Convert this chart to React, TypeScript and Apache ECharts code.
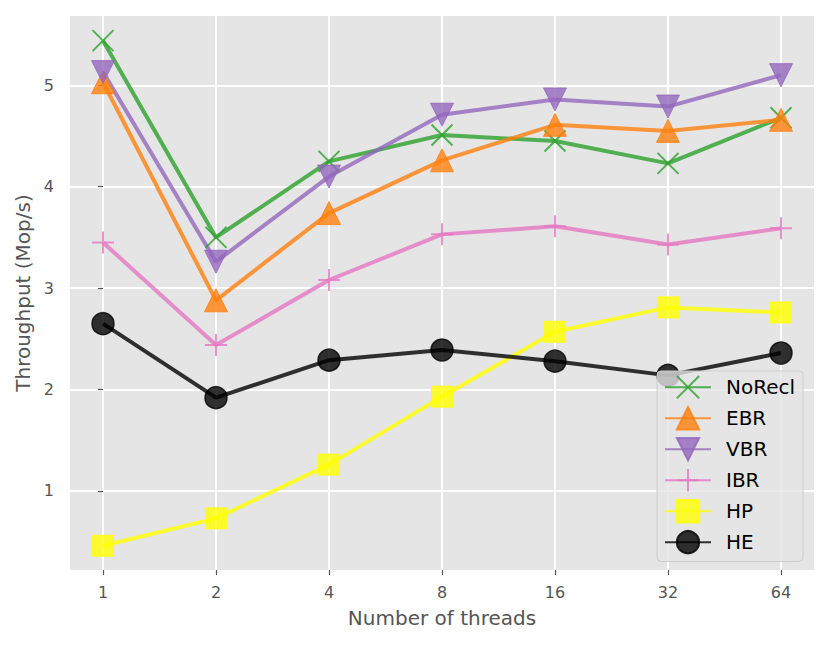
import React, { useEffect, useRef } from "react";
import * as echarts from "echarts";

const threads = [1, 2, 4, 8, 16, 32, 64];
const noRecl = [5.44, 3.5, 4.25, 4.51, 4.45, 4.23, 4.68];
const ebr = [5.03, 2.88, 3.74, 4.26, 4.61, 4.55, 4.66];
const vbr = [5.13, 3.26, 4.1, 4.71, 4.86, 4.79, 5.1];
const ibr = [3.45, 2.44, 3.08, 3.53, 3.61, 3.43, 3.59];
const hp = [0.46, 0.73, 1.26, 1.93, 2.57, 2.81, 2.76];
const he = [2.65, 1.92, 2.29, 2.39, 2.28, 2.14, 2.36];
const yTicks = [1, 2, 3, 4, 5];

const FONT = "DejaVu Sans";
const TXT = "#555555";

export default function App() {
  const ref = useRef<HTMLDivElement>(null);
  useEffect(() => {
    const chart = echarts.init(ref.current!, null, { renderer: "svg" });
    const xVals = threads.map((t) => Math.log2(t));
    const mk = (
      name: string,
      values: number[],
      color: string,
      symbol: string,
      size: number,
      borderWidth: number,
      extra: any = {}
    ) => ({
      name,
      type: "line",
      data: values.map((v, i) => [xVals[i], v]),
      symbol,
      symbolSize: size,
      showAllSymbol: true,
      clip: false,
      lineStyle: { color, width: 4, opacity: 0.8 },
      itemStyle: { color, opacity: 0.8, borderColor: color, borderWidth },
      emphasis: { disabled: true },
      ...extra,
    });
    const xPath = "path://M0,0L10,10M10,0L0,10";
    const plusPath = "path://M5,0L5,10M0,5L10,5";
    chart.setOption({
      animation: false,
      backgroundColor: "#ffffff",
      textStyle: { fontFamily: FONT },
      grid: {
        left: 70,
        right: 17,
        top: 16,
        bottom: 76,
        show: true,
        backgroundColor: "#E5E5E5",
        borderWidth: 0,
      },
      xAxis: {
        type: "value",
        min: -0.292,
        max: 6.292,
        name: "Number of threads",
        nameLocation: "middle",
        nameGap: 38,
        nameTextStyle: { color: TXT, fontSize: 20, fontFamily: FONT },
        axisLine: { show: false },
        axisTick: {
          show: true,
          customValues: xVals,
          length: 5,
          lineStyle: { color: TXT, width: 1.2 },
        },
        axisLabel: {
          customValues: xVals,
          margin: 14,
          color: TXT,
          fontSize: 16,
          fontFamily: FONT,
          formatter: (v: number) => String(threads[Math.round(v)] ?? ""),
        },
        splitLine: { show: true, lineStyle: { color: "#ffffff", width: 1.8 } },
      },
      yAxis: {
        type: "value",
        min: 0.221,
        max: 5.683,
        name: "Throughput (Mop/s)",
        nameLocation: "middle",
        nameGap: 37,
        nameTextStyle: { color: TXT, fontSize: 20, fontFamily: FONT },
        axisLine: { show: false },
        axisTick: {
          show: true,
          customValues: yTicks,
          length: 5,
          lineStyle: { color: TXT, width: 1.2 },
        },
        axisLabel: {
          customValues: yTicks,
          margin: 16,
          color: TXT,
          fontSize: 16,
          fontFamily: FONT,
        },
        splitLine: { show: true, lineStyle: { color: "#ffffff", width: 1.8 } },
      },
      legend: {
        orient: "vertical",
        left: 657,
        top: 371,
        padding: [4, 8, 7, 7],
        itemWidth: 46,
        itemHeight: 28,
        itemGap: 6.6,
        backgroundColor: "rgba(229,229,229,0.8)",
        borderColor: "#cccccc",
        borderWidth: 1,
        borderRadius: 4,
        textStyle: {
          color: "#000000",
          fontSize: 20,
          fontFamily: FONT,
          padding: [0, 0, 0, 10],
        },
        data: ["NoRecl", "EBR", "VBR", "IBR", "HP", "HE"],
      },
      series: [
        mk("NoRecl", noRecl, "#2ca02c", xPath, 21, 2),
        mk("EBR", ebr, "#ff7f0e", "triangle", 23, 1),
        mk("VBR", vbr, "#9467bd", "triangle", 23, 1, { symbolRotate: 180 }),
        mk("IBR", ibr, "#e377c2", plusPath, 22, 2),
        mk("HP", hp, "#ffff00", "rect", 21, 1),
        mk("HE", he, "#000000", "circle", 22, 1.5),
      ],
    });
    return () => chart.dispose();
  }, []);
  return (
    <div
      ref={ref}
      style={{ position: "absolute", left: 0, top: 0, width: 831, height: 646 }}
    />
  );
}
